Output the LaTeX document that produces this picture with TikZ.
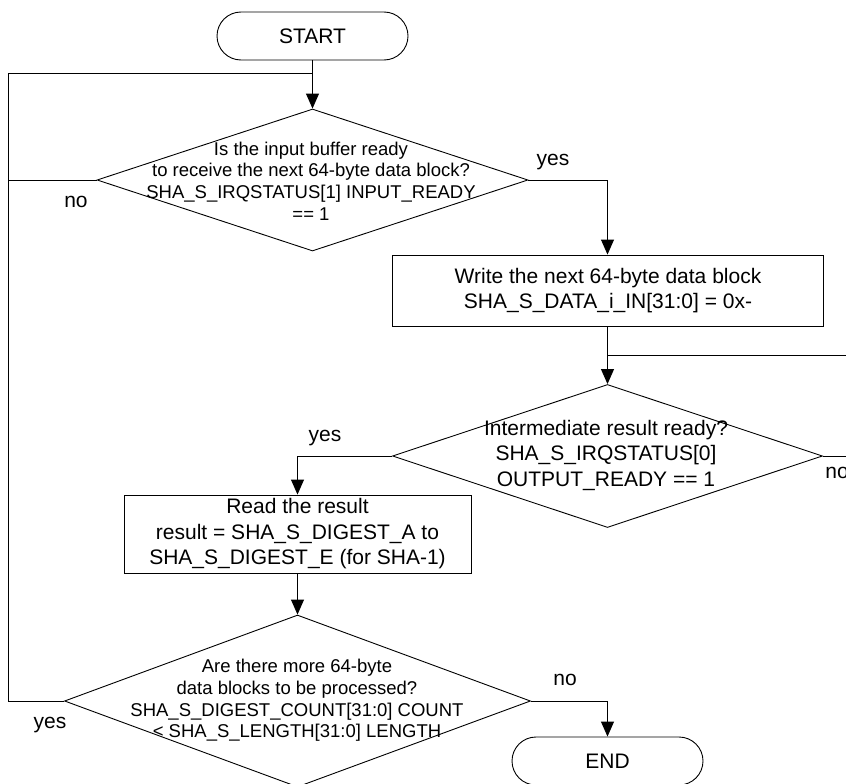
\documentclass[tikz,border=0pt]{standalone}
\usepackage{fontspec}
\setmainfont{Liberation Sans}
\usetikzlibrary{shapes.geometric,arrows.meta}
\begin{document}
\begin{tikzpicture}[x=1pt,y=-1pt, line width=0.9pt,
  big/.style={font=\fontsize{21}{25.5}\selectfont},
  small/.style={font=\fontsize{18.5}{21.7}\selectfont},
  term/.style={draw, rectangle, rounded corners=24pt, minimum width=191pt, minimum height=48pt, inner sep=0pt, big},
  procbox/.style={draw, rectangle, inner sep=0pt},
  decision/.style={draw, diamond, inner sep=0pt},
  txt/.style={align=center, inner sep=0pt},
  lbl/.style={big, inner sep=0pt},
  flow/.style={-{Triangle[length=15pt,width=13pt]}}]
\useasboundingbox (0,0) rectangle (846,784);

% shapes
\node[term] (start) at (312.5,36) {START};
\node[decision, minimum width=431pt, minimum height=142pt] (d1) at (312.5,180) {};
\node[txt, small] (t1) at (311,181) {Is the input buffer ready\\to receive the next 64-byte data block?\\SHA\_S\_IRQSTATUS[1] INPUT\_READY\\== 1};

\node[procbox, minimum width=431pt, minimum height=71pt] (b1) at (607.5,290.5) {};
\node[txt, big] (tb1) at (608,290.5) {Write the next 64-byte data block\\SHA\_S\_DATA\_i\_IN[31:0] = 0x-};

\node[decision, minimum width=430pt, minimum height=143pt] (d2) at (607.5,456) {};
\node[txt, big] (t2) at (606,455) {Intermediate result ready?\\SHA\_S\_IRQSTATUS[0]\\OUTPUT\_READY == 1};

\node[procbox, minimum width=347pt, minimum height=78pt] (b2) at (297.5,534) {};
\node[txt, big] (tb2) at (297.5,534) {Read the result\\result = SHA\_S\_DIGEST\_A to\\SHA\_S\_DIGEST\_E (for SHA-1)};

\node[decision, minimum width=466pt, minimum height=172pt] (d3) at (297.5,701) {};
\node[txt, small] (t3) at (297,700.5) {Are there more 64-byte\\data blocks to be processed?\\SHA\_S\_DIGEST\_COUNT[31:0] COUNT\\< SHA\_S\_LENGTH[31:0] LENGTH};

\node[term] (end) at (607.5,761) {END};

% helper coordinates
\coordinate (j1) at (312.5,73);
\coordinate (ltop) at (8,73);
\coordinate (lbot) at (8,701);
\coordinate (lmid) at (8,180);
\coordinate (j2) at (607.5,355);
\coordinate (rbot) at (870,456);
\coordinate (rtop) at (870,355);

% connectors
\draw[flow] (start.south) -- (d1.north);
\draw (d3.west) -- (lbot) -- (ltop) -- (j1);
\draw (d1.west) -- (lmid);
\draw[flow] (d1.east) -| (b1.north);
\draw[flow] (b1.south) -- (d2.north);
\draw (d2.east) -- (rbot) -- (rtop) -- (j2);
\draw[flow] (d2.west) -| (b2.north);
\draw[flow] (b2.south) -- (d3.north);
\draw[flow] (d3.east) -| (end.north);

% labels
\node[lbl] (n1) at (76,202) {no};
\node[lbl] (y1) at (553,162) {yes};
\node[lbl] (y2) at (325,438) {yes};
\node[lbl] (n2) at (837,473) {no};
\node[lbl] (n3) at (565,680) {no};
\node[lbl] (y3) at (50,725) {yes};
\end{tikzpicture}
\end{document}
